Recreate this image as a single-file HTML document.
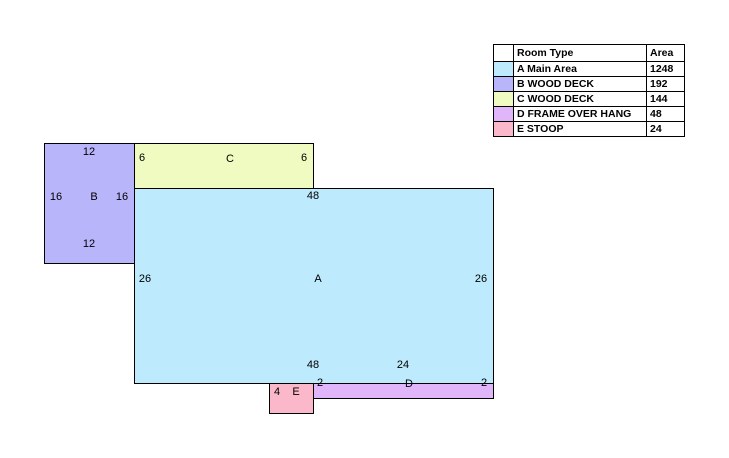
<!DOCTYPE html><html><head><style>
body{margin:0;width:729px;height:458px;background:#fff;position:relative;font-family:"Liberation Sans",Arial,sans-serif;font-size:11px;color:#000;overflow:hidden}
.r{position:absolute;border:1px solid #000;box-sizing:border-box}
.t{position:absolute;line-height:12px;transform:translate(-50%,-50%);white-space:nowrap}
table{position:absolute;left:493px;top:44px;border-collapse:collapse;font-size:10.5px;font-weight:bold}
td{border:1px solid #000;height:14px;padding:0 3px;line-height:13px}
tr.h td{height:16px}
</style></head><body>
<div class="r" style="left:44px;top:143px;width:91px;height:121px;background:#b9b5fb"></div>
<div class="r" style="left:134px;top:143px;width:180px;height:46px;background:#effbc1"></div>
<div class="r" style="left:134px;top:188px;width:360px;height:196px;background:#bdeafd"></div>
<div class="r" style="left:313px;top:383px;width:181px;height:16px;background:#e1b5f9"></div>
<div class="r" style="left:269px;top:383px;width:45px;height:31px;background:#fbb8cb"></div>
<div class="t" style="left:89px;top:152px">12</div>
<div class="t" style="left:56px;top:197px">16</div>
<div class="t" style="left:94px;top:197px">B</div>
<div class="t" style="left:122px;top:197px">16</div>
<div class="t" style="left:89px;top:244px">12</div>
<div class="t" style="left:142px;top:158px">6</div>
<div class="t" style="left:230px;top:159px">C</div>
<div class="t" style="left:304px;top:158px">6</div>
<div class="t" style="left:313px;top:196px">48</div>
<div class="t" style="left:145px;top:279px">26</div>
<div class="t" style="left:318px;top:279px">A</div>
<div class="t" style="left:481px;top:279px">26</div>
<div class="t" style="left:313px;top:365px">48</div>
<div class="t" style="left:403px;top:365px">24</div>
<div class="t" style="left:320px;top:383px">2</div>
<div class="t" style="left:409px;top:384px">D</div>
<div class="t" style="left:484px;top:383px">2</div>
<div class="t" style="left:277px;top:392px">4</div>
<div class="t" style="left:296px;top:392px">E</div>
<table>
<tr class="h"><td style="width:13px"></td><td style="width:126px">Room Type</td><td style="width:31px">Area</td></tr>
<tr><td style="background:#bdeafd"></td><td>A Main Area</td><td>1248</td></tr>
<tr><td style="background:#b9b5fb"></td><td>B WOOD DECK</td><td>192</td></tr>
<tr><td style="background:#effbc1"></td><td>C WOOD DECK</td><td>144</td></tr>
<tr><td style="background:#e1b5f9"></td><td>D FRAME OVER HANG</td><td>48</td></tr>
<tr><td style="background:#fbb8cb"></td><td>E STOOP</td><td>24</td></tr>
</table>
</body></html>
